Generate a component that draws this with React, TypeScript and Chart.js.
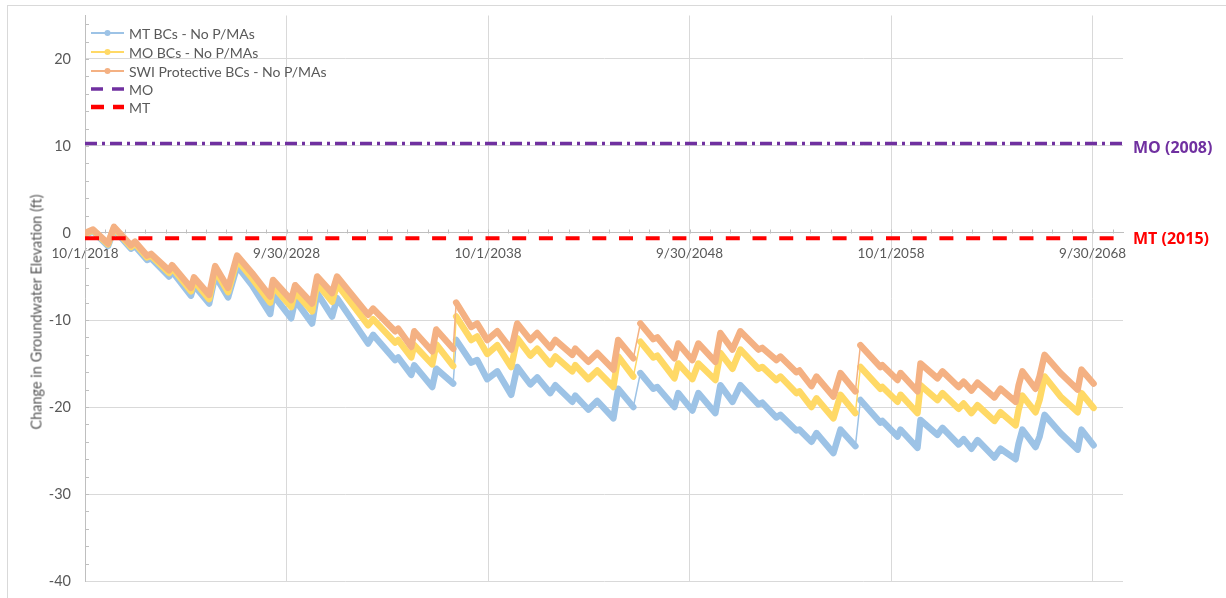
import React, { useEffect, useRef } from "react";
import { Chart, registerables } from "chart.js";

Chart.register(...registerables);

// ---- data ----
const xYears = [
  2018.75, 2019.15, 2019.89, 2020.19, 2021.03, 2021.23, 2021.83, 2022.03, 2022.92, 2023.07,
  2024.01, 2024.16, 2024.91, 2025.21, 2025.85, 2026.3, 2027.04, 2027.94, 2028.08, 2028.98,
  2029.18, 2030.02, 2030.27, 2031.01, 2031.26, 2032.8, 2033.05, 2034.14, 2034.29, 2034.94,
  2035.09, 2035.98, 2036.18, 2037.02, 2037.17, 2037.92, 2038.21, 2038.71, 2039.21, 2039.9,
  2040.2, 2040.85, 2041.19, 2041.84, 2042.09, 2042.93, 2043.08, 2043.73, 2044.17, 2044.97,
  2045.21, 2045.96, 2046.31, 2046.95, 2047.15, 2048.0, 2048.19, 2048.89, 2049.19, 2050.03,
  2050.28, 2050.88, 2051.27, 2052.17, 2052.36, 2053.06, 2053.26, 2054.05, 2054.2, 2054.8,
  2055.05, 2055.89, 2056.24, 2056.98, 2057.23, 2058.22, 2058.32, 2059.07, 2059.22, 2060.06,
  2060.21, 2061.05, 2061.3, 2062.1, 2062.35, 2062.74, 2063.04, 2063.88, 2064.18, 2064.93,
  2065.08, 2065.27, 2065.92, 2066.12, 2066.37, 2067.16, 2068.01, 2068.2, 2068.8,
];

const swiSeries = [
  0.0, 0.4, -1.2, 0.7, -1.4, -1.0, -2.6, -2.4, -4.3, -3.7,
  -6.3, -5.1, -7.1, -3.8, -6.3, -2.6, -4.6, -7.3, -5.4, -7.7,
  -6.0, -8.1, -5.0, -6.9, -5.0, -9.4, -8.7, -11.3, -11.0, -13.1,
  -11.3, -13.6, -11.1, -13.3, -8.0, -10.8, -10.4, -12.3, -11.3, -13.4,
  -10.4, -12.3, -11.5, -13.2, -12.3, -14.0, -13.3, -14.8, -13.8, -15.7,
  -12.3, -14.4, -10.4, -12.2, -12.0, -14.4, -12.7, -14.6, -12.7, -14.8,
  -11.5, -13.4, -11.3, -13.4, -13.2, -14.6, -14.2, -16.0, -15.8, -17.6,
  -16.5, -18.8, -16.1, -18.2, -12.9, -15.4, -15.2, -16.9, -16.1, -18.2,
  -15.0, -16.7, -15.9, -17.7, -17.1, -18.1, -17.2, -18.9, -17.9, -19.4,
  -17.5, -15.9, -17.9, -16.5, -14.0, -16.1, -18.0, -15.7, -17.3,
];

const moSeries = [
  -0.1, 0.3, -1.3, 0.6, -1.6, -1.2, -2.8, -2.6, -4.6, -4.0,
  -6.7, -5.5, -7.6, -4.3, -6.8, -3.1, -5.2, -8.0, -6.1, -8.5,
  -6.8, -9.0, -5.8, -7.9, -5.9, -10.6, -9.9, -12.6, -12.3, -14.3,
  -12.9, -15.1, -12.8, -15.3, -9.6, -12.3, -11.9, -13.9, -12.9, -15.4,
  -12.1, -14.1, -13.3, -15.1, -14.2, -15.9, -15.2, -16.8, -15.8, -17.7,
  -14.2, -16.5, -12.5, -14.3, -14.1, -16.7, -15.0, -16.8, -15.0, -16.9,
  -13.8, -15.6, -13.4, -15.6, -15.4, -16.9, -16.5, -18.4, -18.2, -20.0,
  -19.0, -21.3, -18.6, -20.7, -15.4, -17.9, -17.7, -19.4, -18.6, -20.7,
  -17.5, -19.2, -18.4, -20.2, -19.6, -20.7, -19.8, -21.6, -20.6, -22.1,
  -20.3, -18.7, -20.6, -19.2, -16.5, -18.8, -20.6, -18.4, -20.1,
];

const mtSeries = [
  -0.2, 0.2, -1.5, 0.4, -1.8, -1.5, -3.1, -2.9, -5.0, -4.4,
  -7.2, -6.0, -8.1, -4.9, -7.4, -3.8, -6.0, -9.3, -7.1, -9.8,
  -7.7, -10.4, -6.9, -9.6, -7.5, -12.7, -11.7, -14.6, -14.3, -16.3,
  -15.2, -17.7, -15.6, -17.3, -12.3, -14.9, -14.6, -16.8, -15.9, -18.6,
  -15.4, -17.4, -16.6, -18.4, -17.5, -19.4, -18.7, -20.3, -19.3, -21.3,
  -17.9, -20.0, -16.1, -17.9, -17.7, -20.0, -18.4, -20.4, -18.4, -20.7,
  -17.5, -19.4, -17.5, -19.7, -19.5, -21.2, -20.9, -22.7, -22.6, -24.0,
  -23.0, -25.3, -22.6, -24.5, -19.2, -21.8, -21.6, -23.4, -22.6, -24.7,
  -21.5, -23.2, -22.4, -24.3, -23.7, -24.8, -23.8, -25.8, -24.8, -26.0,
  -24.2, -22.6, -24.6, -23.4, -20.9, -23.0, -24.9, -22.6, -24.4,
];

const moThreshold = 10.3;
const mtThreshold = -0.6;

const xMin = 2018.75;
const xMax = 2070.26;
const xTickValues = [2018.75, 2028.75, 2038.75, 2048.75, 2058.75, 2068.75];
const xTickLabels = ["10/1/2018", "9/30/2028", "10/1/2038", "9/30/2048", "10/1/2058", "9/30/2068"];
const yMin = -40;
const yMax = 25;
const yStep = 10;

const seriesLabels = ["MT BCs - No P/MAs", "MO BCs - No P/MAs", "SWI Protective BCs - No P/MAs", "MO", "MT"];
const yTitle = "Change in Groundwater Elevation (ft)";
const moLabel = "MO (2008)";
const mtLabel = "MT (2015)";

// ---- styles ----
const FONT = "Lato, 'Open Sans', 'DejaVu Sans', sans-serif";
const BOLD_FONT = "'Open Sans', 'DejaVu Sans', sans-serif";
const TEXT = "#595959";
const BLUE = "#9DC3E6";
const YELLOW = "#FFD966";
const ORANGE = "#F4B183";
const PURPLE = "#7030A0";
const RED = "#FF0000";

const minorTicks = {
  id: "minorTicks",
  beforeDatasetsDraw(chart: any) {
    const { ctx, scales } = chart;
    const x = scales.x;
    const y = scales.y;
    const area = chart.chartArea;
    ctx.save();
    ctx.strokeStyle = "#bfbfbf";
    ctx.lineWidth = 1;
    ctx.beginPath();
    for (let v = yMin + 2; v < yMax; v += 2) {
      const py = Math.round(y.getPixelForValue(v)) + 0.5;
      ctx.moveTo(area.left, py);
      ctx.lineTo(area.left + 4, py);
    }
    const y0 = Math.round(y.getPixelForValue(0)) + 0.5;
    for (let yr = xMin + 1; yr < xMax; yr += 1) {
      const px = Math.round(x.getPixelForValue(yr)) + 0.5;
      ctx.moveTo(px, y0);
      ctx.lineTo(px, y0 - 4);
    }
    ctx.stroke();
    ctx.restore();
  },
};

function LegendRow({ top, kind, color, text }: { top: number; kind: string; color: string; text: string }) {
  let sample: React.ReactNode;
  if (kind === "marker") {
    sample = (
      <svg width={36} height={12} style={{ display: "block" }}>
        <line x1={1} y1={6} x2={34} y2={6} stroke={color} strokeWidth={2} />
        <circle cx={17.5} cy={6} r={3} fill={color} />
      </svg>
    );
  } else if (kind === "mo") {
    sample = (
      <svg width={36} height={12} style={{ display: "block" }}>
        <line x1={1} y1={6} x2={34} y2={6} stroke={color} strokeWidth={3.5} strokeDasharray="12 9" />
      </svg>
    );
  } else {
    sample = (
      <svg width={36} height={12} style={{ display: "block" }}>
        <line x1={1} y1={6} x2={34} y2={6} stroke={color} strokeWidth={4.5} strokeDasharray="13 9" />
      </svg>
    );
  }
  return (
    <div
      style={{
        position: "absolute",
        left: 90,
        top: top - 10,
        height: 20,
        display: "flex",
        alignItems: "center",
        whiteSpace: "nowrap",
      }}
    >
      {sample}
      <span style={{ marginLeft: 3, font: `14px ${FONT}`, color: TEXT }}>{text}</span>
    </div>
  );
}

export default function App() {
  const canvasRef = useRef<HTMLCanvasElement | null>(null);

  useEffect(() => {
    document.body.style.margin = "0";
    const canvas = canvasRef.current;
    if (!canvas) return;
    const toPts = (arr: number[]) => xYears.map((x, i) => ({ x, y: arr[i] }));
    const seriesStyle = {
      borderWidth: 6.5,
      pointRadius: 0,
      borderJoinStyle: "round" as const,
      borderCapStyle: "round" as const,
      tension: 0,
      fill: false,
      segment: {
        // sudden large rises are drawn as a thin connector, as in the reference
        borderWidth: (c: any) =>
          c.p1.parsed.y - c.p0.parsed.y > 3.8 && c.p1.parsed.x - c.p0.parsed.x < 0.4 ? 1.5 : undefined,
      },
    };
    const chart = new Chart(canvas, {
      type: "line",
      data: {
        datasets: [
          { label: seriesLabels[0], data: toPts(mtSeries), borderColor: BLUE, backgroundColor: BLUE, order: 3, ...seriesStyle },
          { label: seriesLabels[1], data: toPts(moSeries), borderColor: YELLOW, backgroundColor: YELLOW, order: 2, ...seriesStyle },
          { label: seriesLabels[2], data: toPts(swiSeries), borderColor: ORANGE, backgroundColor: ORANGE, order: 1, ...seriesStyle },
          {
            label: seriesLabels[3],
            data: [
              { x: xMin, y: moThreshold },
              { x: xMax, y: moThreshold },
            ],
            borderColor: PURPLE,
            borderWidth: 3.5,
            borderDash: [12, 5, 3, 5],
            pointRadius: 0,
            order: 0,
          },
          {
            label: seriesLabels[4],
            data: [
              { x: xMin, y: mtThreshold },
              { x: xMax, y: mtThreshold },
            ],
            borderColor: RED,
            borderWidth: 4,
            borderDash: [14, 12.7],
            pointRadius: 0,
            order: 0,
          },
        ],
      },
      options: {
        animation: false,
        responsive: true,
        maintainAspectRatio: false,
        layout: { padding: { left: 0, right: 103, top: 15.5, bottom: 17 } },
        plugins: { legend: { display: false }, tooltip: { enabled: false } },
        scales: {
          x: {
            type: "linear",
            min: xMin,
            max: xMax,
            position: { y: 0 } as any,
            afterFit: (s: any) => {
              s.height = 0;
              s.paddingLeft = 0;
              s.paddingRight = 0;
            },
            afterBuildTicks: (s: any) => {
              s.ticks = xTickValues.map((v) => ({ value: v }));
            },
            grid: { color: "#d9d9d9", drawTicks: false },
            border: { color: "#bfbfbf" },
            ticks: {
              autoSkip: false,
              maxRotation: 0,
              padding: 13,
              color: TEXT,
              font: { family: FONT, size: 13.5 },
              callback: (_v: any, i: number) => xTickLabels[i],
            },
          },
          y: {
            min: yMin,
            max: yMax,
            afterFit: (s: any) => {
              s.width = 85;
              s.paddingTop = 0;
              s.paddingBottom = 0;
            },
            grid: { color: "#d9d9d9", drawTicks: false },
            border: { color: "#bfbfbf" },
            ticks: {
              stepSize: yStep,
              includeBounds: false,
              padding: 14,
              color: TEXT,
              font: { family: FONT, size: 14.5 },
            },
          },
        },
      },
      plugins: [minorTicks],
    });
    return () => chart.destroy();
  }, []);

  return (
    <div style={{ position: "absolute", left: 0, top: 0, width: 1226, height: 598, overflow: "hidden", background: "#fff" }}>
      <div style={{ position: "absolute", left: 7, top: 5, width: 1400, height: 800, border: "1px solid #d9d9d9" }} />
      <canvas ref={canvasRef} style={{ position: "absolute", left: 0, top: 0 }} />
      <div
        style={{
          position: "absolute",
          left: 36,
          top: 312,
          transform: "translate(-50%, -50%) rotate(-90deg)",
          whiteSpace: "nowrap",
          font: `14.5px ${FONT}`,
          color: TEXT,
        }}
      >
        {yTitle}
      </div>
      <LegendRow top={33} kind="marker" color={BLUE} text={seriesLabels[0]} />
      <LegendRow top={52} kind="marker" color={YELLOW} text={seriesLabels[1]} />
      <LegendRow top={71} kind="marker" color={ORANGE} text={seriesLabels[2]} />
      <LegendRow top={89} kind="mo" color={PURPLE} text={seriesLabels[3]} />
      <LegendRow top={107} kind="mt" color={RED} text={seriesLabels[4]} />
      <div style={{ position: "absolute", left: 1133, top: 147, transform: "translateY(-50%)", font: `bold 16px ${BOLD_FONT}`, color: PURPLE, whiteSpace: "nowrap" }}>
        {moLabel}
      </div>
      <div style={{ position: "absolute", left: 1133, top: 238, transform: "translateY(-50%)", font: `bold 16px ${BOLD_FONT}`, color: RED, whiteSpace: "nowrap" }}>
        {mtLabel}
      </div>
    </div>
  );
}
